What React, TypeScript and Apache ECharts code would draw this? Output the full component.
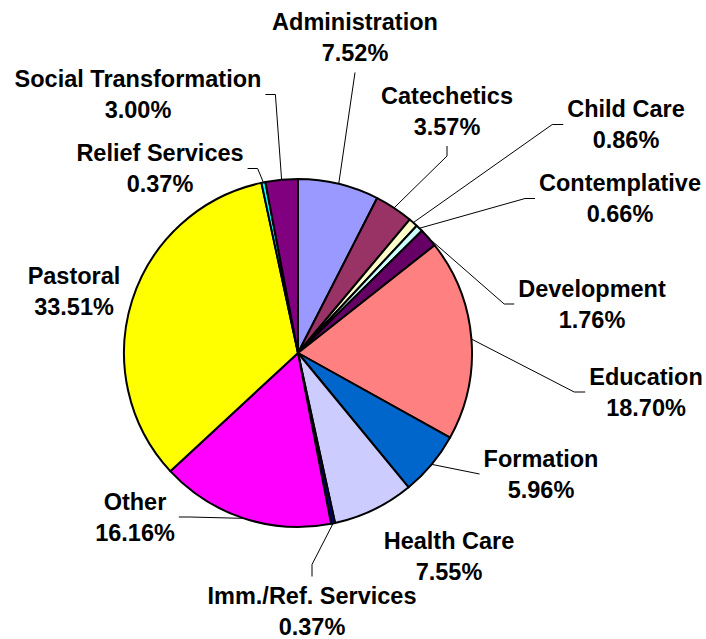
import React, { useEffect, useRef } from "react";
import * as echarts from "echarts";

const categories = [
  "Administration",
  "Catechetics",
  "Child Care",
  "Contemplative",
  "Development",
  "Education",
  "Formation",
  "Health Care",
  "Imm./Ref. Services",
  "Other",
  "Pastoral",
  "Relief Services",
  "Social Transformation",
];
const shares = [7.52, 3.57, 0.86, 0.66, 1.76, 18.7, 5.96, 7.55, 0.37, 16.16, 33.51, 0.37, 3.0];
const sliceColors = [
  "#9999FF",
  "#993366",
  "#FFFFCC",
  "#CCFFFF",
  "#660066",
  "#FF8080",
  "#0066CC",
  "#CCCCFF",
  "#000080",
  "#FF00FF",
  "#FFFF00",
  "#00FFFF",
  "#800080",
];

type Side = "left" | "right" | "top" | "bottom" | "none";
// label placement (layout only)
const labelPlacement: { x: number; y: number; side: Side; bend: number }[] = [
  { x: 355, y: 37.5, side: "bottom", bend: 0 },
  { x: 447, y: 111, side: "bottom", bend: 10 },
  { x: 626, y: 124.5, side: "left", bend: 11 },
  { x: 620, y: 198.5, side: "left", bend: 10 },
  { x: 592, y: 304, side: "left", bend: 10 },
  { x: 646, y: 392, side: "left", bend: 11 },
  { x: 541, y: 474, side: "left", bend: 0 },
  { x: 449, y: 556, side: "none", bend: 0 },
  { x: 312, y: 611.5, side: "top", bend: 12 },
  { x: 135, y: 517, side: "right", bend: 11 },
  { x: 74, y: 291, side: "none", bend: 0 },
  { x: 160, y: 168.5, side: "right", bend: 10 },
  { x: 138, y: 94.5, side: "right", bend: 10 },
];

export default function App() {
  const ref = useRef<HTMLDivElement>(null);
  useEffect(() => {
    if (!ref.current) return;
    const chart = echarts.init(ref.current, undefined, { renderer: "svg" });
    const data = categories.map((name, i) => ({
      name,
      value: shares[i],
      itemStyle: { color: sliceColors[i] },
      labelLine: { show: labelPlacement[i].side !== "none" },
    }));
    chart.setOption({
      animation: false,
      backgroundColor: "#ffffff",
      series: [
        {
          type: "pie",
          center: [298, 353],
          radius: 174,
          startAngle: 90,
          clockwise: true,
          avoidLabelOverlap: false,
          data,
          itemStyle: { borderColor: "#000000", borderWidth: 2 },
          label: {
            show: true,
            position: "outside",
            formatter: (p: any) => `${p.name}\n${Number(p.value).toFixed(2)}%`,
            fontFamily: "'Liberation Sans', Arial, sans-serif",
            fontWeight: "bold",
            fontSize: 23.5,
            lineHeight: 31,
            color: "#000000",
            align: "center",
          },
          labelLine: {
            show: true,
            length: 10,
            length2: 10,
            lineStyle: { color: "#000000", width: 1 },
          },
          labelLayout: (params: any) => {
            const p = labelPlacement[params.dataIndex];
            const w = params.labelRect.width;
            const h = params.labelRect.height;
            const res: any = { x: p.x, y: p.y, align: "center", verticalAlign: "middle" };
            const pts = params.labelLinePoints;
            if (pts && p.side !== "none") {
              const s = pts[0];
              let end: number[];
              let bend: number[];
              if (p.side === "left") {
                end = [p.x - w / 2 - 4, p.y];
                bend = [end[0] - p.bend, p.y];
              } else if (p.side === "right") {
                end = [p.x + w / 2 + 4, p.y];
                bend = [end[0] + p.bend, p.y];
              } else if (p.side === "bottom") {
                end = [p.x, p.y + h / 2 + 4];
                bend = [p.x, end[1] + p.bend];
              } else {
                end = [p.x, p.y - h / 2 - 4];
                bend = [p.x, end[1] - p.bend];
              }
              res.labelLinePoints = [[s[0], s[1]], bend, end];
            }
            return res;
          },
        },
      ],
    });
    return () => chart.dispose();
  }, []);
  return (
    <div
      ref={ref}
      style={{ position: "fixed", left: 0, top: 0, width: 706, height: 639 }}
    />
  );
}
